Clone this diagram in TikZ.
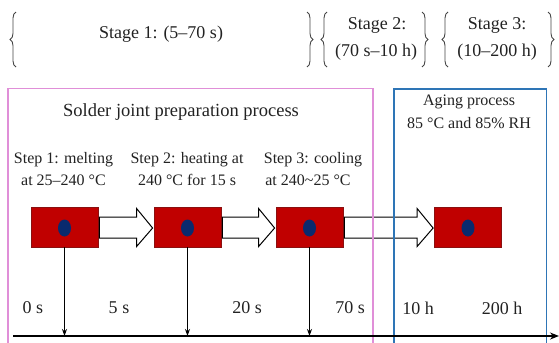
\documentclass[tikz,border=0pt]{standalone}
\usepackage{fontspec}
\setmainfont{Liberation Serif}
\usetikzlibrary{calc,decorations.pathreplacing,arrows.meta,shapes.geometric}
\definecolor{boxred}{HTML}{C00000}
\definecolor{boxedge}{HTML}{8A1010}
\definecolor{dotblue}{HTML}{0A2A6E}
\definecolor{pinkline}{HTML}{E08FD8}
\definecolor{blueline}{HTML}{2E75B6}
\definecolor{txt}{HTML}{222222}
\definecolor{bracecol}{HTML}{444444}
\tikzset{
  redbox/.style={draw=boxedge, line width=0.8bp, fill=boxred, minimum width=67bp, minimum height=40bp, inner sep=0pt},
  dot/.style={ellipse, fill=dotblue, minimum width=13bp, minimum height=17bp, inner sep=0pt},
  hollow/.style={draw=black, fill=white, line width=1bp, line join=miter},
  bigtxt/.style={text=txt, font=\fontsize{18bp}{22bp}\selectfont, inner sep=0pt},
  midtxt/.style={text=txt, font=\fontsize{16bp}{20bp}\selectfont, inner sep=0pt, align=center},
  titletxt/.style={text=txt, font=\fontsize{18.5bp}{22bp}\selectfont, inner sep=0pt},
  bracestyle/.style={draw=bracecol, line width=0.9bp, decorate, decoration={brace, amplitude=6bp}},
  timeline/.style={draw=black, line width=1bp, -{Stealth[length=7bp,width=5bp]}},
  axisline/.style={draw=black, line width=1.4bp, -{Stealth[length=9bp,width=7bp]}},
}
\begin{document}
\begin{tikzpicture}[x=1bp,y=-1bp]
\useasboundingbox (0,0) rectangle (559,342);
% stage braces
\coordinate (b1a) at (16,12); \coordinate (b1b) at (16,67);
\coordinate (b1c) at (307,12); \coordinate (b1d) at (307,67);
\coordinate (b2a) at (327,12); \coordinate (b2b) at (327,67);
\coordinate (b2c) at (422,12); \coordinate (b2d) at (422,67);
\coordinate (b3a) at (448,12); \coordinate (b3b) at (448,67);
\coordinate (b3c) at (548,12); \coordinate (b3d) at (548,67);
\draw[bracestyle] (b1b) -- (b1a);
\draw[bracestyle] (b1c) -- (b1d);
\draw[bracestyle] (b2b) -- (b2a);
\draw[bracestyle] (b2c) -- (b2d);
\draw[bracestyle] (b3b) -- (b3a);
\draw[bracestyle] (b3c) -- (b3d);
\node[bigtxt] (s1) at (161,34) {Stage 1: (5–70 s)};
\node[bigtxt] (s2a) at (377,25) {Stage 2:};
\node[bigtxt] (s2b) at (376,52) {(70 s–10 h)};
\node[bigtxt] (s3a) at (497,25) {Stage 3:};
\node[bigtxt] (s3b) at (497,52) {(10–200 h)};
% texts
\node[titletxt] (title) at (181,112) {Solder joint preparation process};
\node[midtxt] (age1) at (469,102) {Aging process};
\node[midtxt] (age2) at (469,123) {85 °C and 85\% RH};
\node[midtxt] (st1a) at (63.5,160) {Step 1: melting};
\node[midtxt] (st1b) at (63.5,180) {at 25–240 °C};
\node[midtxt] (st2a) at (187,160) {Step 2: heating at};
\node[midtxt] (st2b) at (187,180) {240 °C for 15 s};
\node[midtxt] (st3a) at (313,160) {Step 3: cooling};
\node[midtxt] (st3b) at (308,180) {at 240\textasciitilde 25 °C};
% red samples
\node[redbox] (r1) at (64.5,227) {};
\node[redbox] (r2) at (187.5,227) {};
\node[redbox] (r3) at (309.5,227) {};
\node[redbox] (r4) at (468,227) {};
\foreach \i in {1,2,3,4} { \node[dot] (d\i) at ($(r\i.center)+(0,1)$) {}; }
% hollow arrows
\foreach \a/\b in {r1/r2, r2/r3, r3/r4} {
  \draw[hollow] ($(\a.east)+(1,-10)$) -- ($(\b.west)+(-17,-10)$) -- ($(\b.west)+(-17,-18.5)$)
    -- ($(\b.west)+(-1,1)$) -- ($(\b.west)+(-17,19.5)$) -- ($(\b.west)+(-17,11)$)
    -- ($(\a.east)+(1,11)$) -- cycle;
}
% process frames (drawn over the arrows)
\draw[pinkline, line width=1.6bp] (8,345) -- (8,88.5) -- (373,88.5) -- (373,345);
\draw[blueline, line width=1.6bp] (394,345) -- (394,89) -- (546.5,89) -- (546.5,345);
% time axis
\coordinate (ax0) at (13,336);
\coordinate (ax1) at (559,336);
\draw[axisline] (ax0) -- (ax1);
\foreach \i in {1,2,3} { \draw[timeline] (r\i.south) -- (r\i.south |- ax0); }
% time labels
\node[bigtxt] (t0) at (33,308) {0 s};
\node[bigtxt] (t5) at (119,308) {5 s};
\node[bigtxt] (t20) at (247,308) {20 s};
\node[bigtxt] (t70) at (350,308) {70 s};
\node[bigtxt] (t10h) at (418,308) {10 h};
\node[bigtxt] (t200h) at (502,308) {200 h};
\end{tikzpicture}
\end{document}
